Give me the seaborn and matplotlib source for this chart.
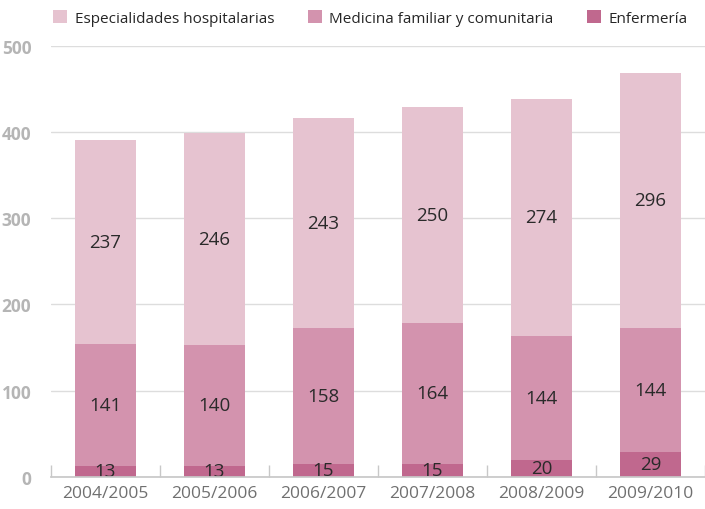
import pandas as pd
import seaborn as sns
import matplotlib.pyplot as plt
import numpy as np

# data
periods = ["2004/2005", "2005/2006", "2006/2007", "2007/2008", "2008/2009", "2009/2010"]
enfermeria = [13, 13, 15, 15, 20, 29]
medicina = [141, 140, 158, 164, 144, 144]
especialidades = [237, 246, 243, 250, 274, 296]

series_names = ["Especialidades hospitalarias", "Medicina familiar y comunitaria", "Enfermería"]
colors = {"Enfermería": "#C0688E",
          "Medicina familiar y comunitaria": "#D393AE",
          "Especialidades hospitalarias": "#E6C3D0"}

sns.set_theme(style="white")
plt.rcParams['font.family'] = ['Open Sans', 'DejaVu Sans']

fig = plt.figure(figsize=(7.05, 5.1), dpi=100)
ax = fig.add_axes([0.072, 0.063, 0.928, 0.845])

df = pd.DataFrame({"periodo": periods, "Enfermería": enfermeria,
                   "Medicina familiar y comunitaria": medicina,
                   "Especialidades hospitalarias": especialidades})

bottom = np.zeros(len(periods))
for name in ["Enfermería", "Medicina familiar y comunitaria", "Especialidades hospitalarias"]:
    vals = df[name].to_numpy()
    sns.barplot(data=df, x="periodo", y=name, color=colors[name], bottom=bottom,
                width=0.56, saturation=1, ax=ax, zorder=3, label=name, linewidth=0)
    for i, v in enumerate(vals):
        ax.text(i, bottom[i] + v / 2, str(v), ha="center", va="center",
                fontsize=13.5, color="#2a2a2a", zorder=4)
    bottom = bottom + vals

ax.set_ylim(0, 500)
ax.set_xlim(-0.5, 5.5)
ax.set_yticks([0, 100, 200, 300, 400, 500])
ax.yaxis.grid(True, color="#dddddd", linewidth=1, zorder=0)
for s in ["top", "right", "left"]:
    ax.spines[s].set_visible(False)
ax.spines["bottom"].set_color("#c8c8c8")
ax.spines["bottom"].set_zorder(5)
ax.set_xlabel("")
ax.set_ylabel("")
ax.tick_params(axis="y", length=0, labelsize=12.5, labelcolor="#b5b5b5", pad=14)
for lab in ax.get_yticklabels():
    lab.set_fontweight("bold")
ax.tick_params(axis="x", which="major", length=0, labelsize=12.5, labelcolor="#707070", pad=6)
# small inward ticks between categories
ax.set_xticks(np.arange(-0.5, 6, 1), minor=True)
ax.tick_params(axis="x", which="minor", bottom=True, direction="in", length=9,
               color="#c8c8c8", width=1)

handles, labels = ax.get_legend_handles_labels()
if ax.get_legend() is not None:
    ax.get_legend().remove()
order = [labels.index(n) for n in series_names]
fig.legend([handles[i] for i in order], [labels[i] for i in order],
           loc="upper right", bbox_to_anchor=(0.995, 1.005), ncol=3, frameon=False,
           fontsize=11, handlelength=0.9, handleheight=0.9, handletextpad=0.5,
           columnspacing=2.2)

fig.savefig("out.png", dpi=100)
